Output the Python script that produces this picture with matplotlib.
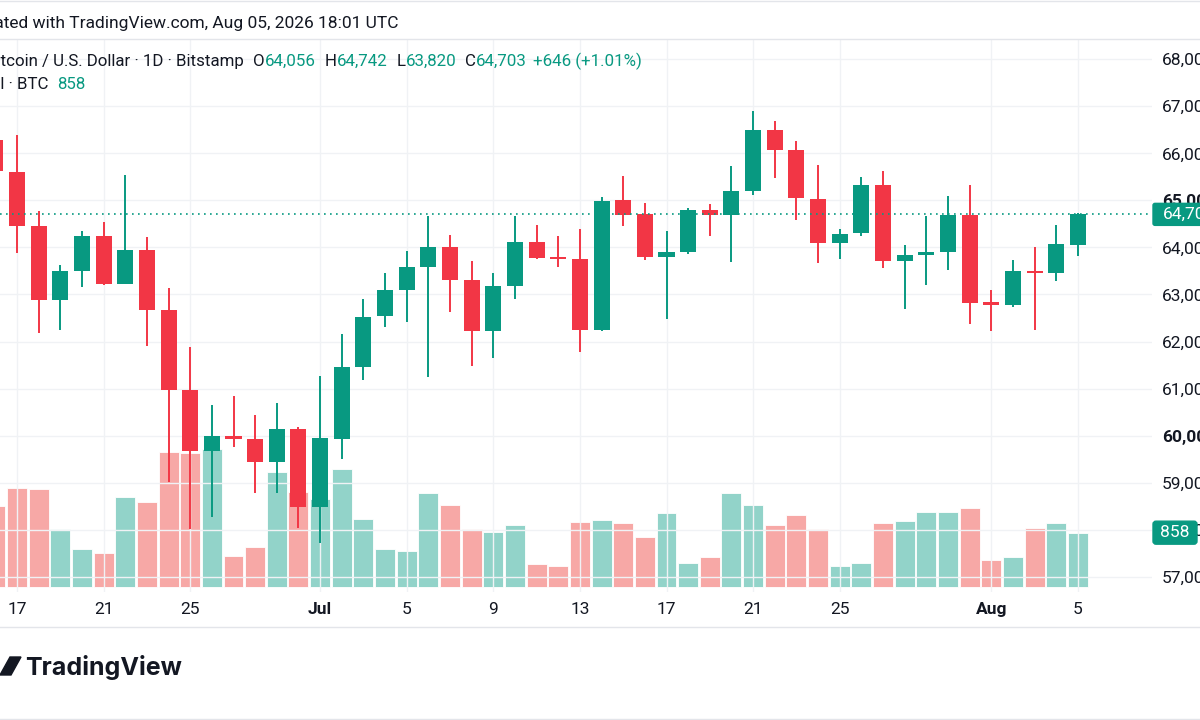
import matplotlib
matplotlib.use("Agg")
import matplotlib.pyplot as plt
import matplotlib.dates as mdates
from matplotlib.patches import FancyBboxPatch, Polygon
from matplotlib.lines import Line2D
from matplotlib.transforms import IdentityTransform
import pandas as pd

plt.rcParams['font.family'] = ['Roboto', 'DejaVu Sans']

# daily BTC/USD candles, Jun 16 - Aug 05 2026
dates = pd.date_range("2026-06-16", "2026-08-05", freq="D")
opens = [66290, 65602, 64447, 62887, 63489, 64234, 63228, 63951, 62660, 60972,
         59674, 59994, 59921, 59447, 60134, 58489, 59930, 61468, 62532, 63092,
         63581, 64000, 63312, 62234, 63185, 64113, 63773, 63750, 62255, 65000,
         64709, 63787, 63894, 64794, 64687, 65206, 66504, 66064, 65036, 64085,
         64298, 65319, 63702, 63845, 63894, 64696, 62830, 62766, 63504, 63453,
         64056]
highs = [66600, 66398, 64766, 63617, 64355, 64532, 65532, 64213, 63134, 61879,
         60652, 60845, 60440, 60687, 60176, 61277, 62155, 62894, 63453, 63929,
         64660, 64270, 63702, 63447, 64660, 64468, 64234, 64398, 65064, 65511,
         64943, 64355, 64836, 64921, 65723, 66894, 66696, 66270, 65745, 64398,
         65489, 65632, 64043, 64660, 65100, 65334, 63100, 63738, 64006, 64468,
         64742]
lows = [65400, 63879, 62177, 62249, 63149, 63206, 63228, 61894, 59021, 58006,
        58277, 59751, 58787, 58772, 58043, 57709, 59504, 61177, 62298, 62411,
        61249, 62617, 61489, 61660, 62900, 63750, 63580, 61772, 62213, 64447,
        63723, 62474, 63857, 64249, 63687, 65106, 65474, 64589, 63666, 63760,
        64249, 63560, 62696, 63206, 63526, 62368, 62228, 62740, 62249, 63277,
        63820]
closes = [65617, 64447, 62887, 63489, 64249, 63228, 63951, 62660, 60972, 59674,
          59994, 59930, 59447, 60134, 58489, 59943, 61468, 62517, 63092, 63581,
          64000, 63312, 62234, 63185, 64113, 63773, 63745, 62255, 64979, 64696,
          63787, 63900, 64802, 64687, 65191, 66504, 66079, 65049, 64085, 64291,
          65319, 63702, 63845, 63894, 64696, 62809, 62766, 63504, 63447, 64070,
          64703]
volumes = [1277, 1555, 1540, 911, 597, 534, 1423, 1335, 2130, 2105,
           2168, 492, 628, 1807, 1502, 1382, 1863, 1068, 597, 575,
           1477, 1288, 911, 869, 974, 366, 339, 1031, 1057, 1005,
           786, 1172, 377, 471, 1486, 1288, 974, 1131, 911, 339,
           382, 1015, 1037, 1183, 1183, 1241, 434, 471, 927, 1015,
           858]

tick_dates = ["2026-06-17", "2026-06-21", "2026-06-25", "2026-07-01", "2026-07-05",
              "2026-07-09", "2026-07-13", "2026-07-17", "2026-07-21", "2026-07-25",
              "2026-08-01", "2026-08-05"]
tick_labels = ["17", "21", "25", "Jul", "5", "9", "13", "17", "21", "25", "Aug", "5"]
price_ticks = list(range(57000, 69000, 1000))

GREEN = "#089981"
RED = "#F23645"
VGREEN = "#92D3C9"
VRED = "#F7A8A6"
TXT = "#131722"
GRID = "#F0F2F5"
LINE = "#E3E5EA"
FS = 12.5

W, H = 1200, 720
fig = plt.figure(figsize=(12, 7.2), dpi=100)
fig.patch.set_facecolor("white")

# pane: x 0..1152 px, y 39..592 px from top
rect = [0, (H - 592) / H, 1152 / W, (592 - 39) / H]
axv = fig.add_axes(rect)
ax = fig.add_axes(rect)
ax.set_zorder(axv.get_zorder() + 1)
ax.patch.set_visible(False)

x = mdates.date2num(dates)
up = [c >= o for o, c in zip(opens, closes)]
ccol = [GREEN if u else RED for u in up]
vcol = [VGREEN if u else VRED for u in up]

# volume
axv.bar(x, volumes, width=0.92, color=vcol, edgecolor="white", linewidth=0.6)
axv.set_ylim(-74, 8614)
axv.set_yticks([])
axv.set_xticks([])

# candles
bodies = [max(abs(c - o), 55) for o, c in zip(opens, closes)]
bottoms = [min(o, c) for o, c in zip(opens, closes)]
ax.vlines(x, lows, highs, colors=ccol, linewidth=1.4, zorder=3)
ax.bar(x, bodies, bottom=bottoms, width=0.74, color=ccol, zorder=4)
ax.axhline(closes[-1], color=GREEN, linestyle=(0, (1, 2.6)), linewidth=1.2, zorder=5)

x0 = mdates.date2num(pd.Timestamp("2026-06-17"))
ax.set_xlim(x0 - 17 / 21.65, x0 + (1152 - 17) / 21.65)
axv.set_xlim(ax.get_xlim())
ax.set_ylim(56675, 68431)

ax.yaxis.tick_right()
ax.set_yticks(price_ticks)
ax.set_yticklabels([f"{p:,}" for p in price_ticks])
for lab, p in zip(ax.get_yticklabels(), price_ticks):
    if p % 5000 == 0:
        lab.set_fontweight("bold")
ax.set_xticks(mdates.date2num(pd.to_datetime(tick_dates)))
ax.set_xticklabels(tick_labels)
for lab in ax.get_xticklabels():
    if lab.get_text() in ("Jul", "Aug"):
        lab.set_fontweight("bold")
ax.tick_params(axis="y", length=0, pad=7.2, labelsize=FS, labelcolor=TXT)
ax.tick_params(axis="x", length=0, pad=7, labelsize=FS, labelcolor=TXT)
ax.grid(True, color=GRID, linewidth=1)
ax.set_axisbelow(True)
for a in (ax, axv):
    for s in a.spines.values():
        s.set_visible(False)

ident = IdentityTransform()
r = fig.canvas.get_renderer()

# last price / last volume tags on the scale
yp = ax.transData.transform((x[-1], closes[-1]))[1]
fig.add_artist(FancyBboxPatch((1153, yp - 11), 60, 22, boxstyle="round,pad=0,rounding_size=2",
                              transform=ident, color=GREEN, zorder=5))
fig.text(1163, yp, f"{closes[-1]:,}", color="white", fontsize=FS, va="center",
         transform=ident, zorder=6)
yv = axv.transData.transform((x[-1], volumes[-1]))[1]
fig.add_artist(FancyBboxPatch((1153, yv - 11.5), 44, 23, boxstyle="round,pad=0,rounding_size=3",
                              transform=ident, color=GREEN, zorder=5))
fig.text(1175, yv, f"{volumes[-1]}", color="white", fontsize=FS, va="center", ha="center",
         transform=ident, zorder=6)


def chain(parts, start, y_top, size=FS):
    xx = start
    for s, c, gap in parts:
        t = fig.text(xx, H - y_top, s, color=c, fontsize=size, va="baseline",
                     transform=ident)
        xx = t.get_window_extent(r).x1 + gap


def width_of(s, size=FS):
    t = fig.text(0, 0, s, fontsize=size, transform=ident)
    w = t.get_window_extent(r).width
    t.remove()
    return w


# header
fig.text(398, H - 28, "Created with TradingView.com, Aug 05, 2026 18:01 UTC", color=TXT,
         fontsize=FS, ha="right", va="baseline", transform=ident)
for yy in (0.5, 39, 627, 718.5):
    fig.add_artist(Line2D([0, W], [H - yy, H - yy], color=LINE, linewidth=1, transform=ident))

LFS = 12.2
chain([("Bitcoin / U.S. Dollar · 1D · Bitstamp", TXT, 10),
       ("O", TXT, 0), (f"{opens[-1]:,}", GREEN, 9),
       ("H", TXT, 0), (f"{highs[-1]:,}", GREEN, 9),
       ("L", TXT, 0), (f"{lows[-1]:,}", GREEN, 9),
       ("C", TXT, 0), (f"{closes[-1]:,}", GREEN, 6),
       ("+646 (+1.01%)", GREEN, 0)], -width_of("Bi", LFS), 66, LFS)
chain([("Vol · BTC", TXT, 9), (f"{volumes[-1]}", GREEN, 0)], -width_of("Vo", LFS), 89, LFS)

# TradingView logo
fig.add_artist(Polygon([(0, H - 675), (11, H - 675), (21, H - 657), (10, H - 657)],
                       closed=True, transform=ident, color=TXT))
fig.text(25, H - 675, "TradingView", color=TXT, fontsize=18, fontweight="bold",
         va="baseline", transform=ident, family=["Inter", "DejaVu Sans"])

fig.savefig("out.png", dpi=100, facecolor="white")
